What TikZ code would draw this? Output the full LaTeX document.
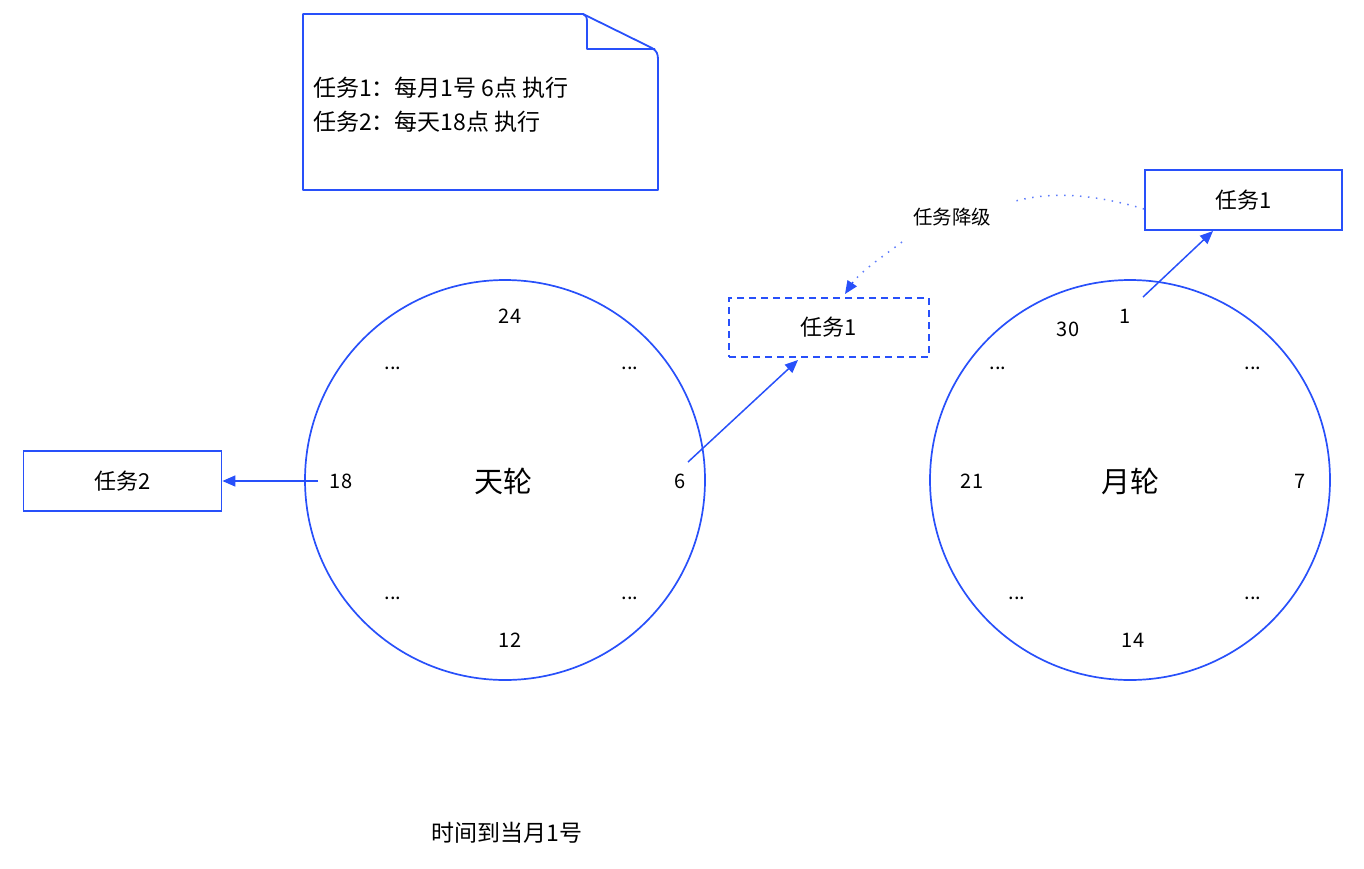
\documentclass[tikz,border=0pt]{standalone}
\usepackage{fontspec}
\setmainfont{Noto Sans CJK SC}
\usetikzlibrary{arrows.meta}
\definecolor{bl}{RGB}{40,80,250}
\begin{document}
\begin{tikzpicture}[x=1pt,y=-1pt,
  lbl/.style={font=\fontsize{23}{26}\selectfont, inner sep=0pt},
  num/.style={font=\fontsize{20}{24}\selectfont, inner sep=0pt},
  big/.style={font=\fontsize{29}{32}\selectfont, inner sep=0pt},
  wheel/.style={draw=bl, line width=1.7pt, circle, minimum size=400pt, inner sep=0pt},
  taskbox/.style={draw=bl, line width=1.8pt, minimum width=198pt, minimum height=60pt, font=\fontsize{22}{25}\selectfont},
  conn/.style={draw=bl, line width=1.5pt, -{Triangle[length=13pt,width=11pt]}}]
\useasboundingbox (0,0) rectangle (1364,868);
% note
\draw[bl, line width=1.8pt, line join=round] (303,14) -- (583,14) -- (652,48) .. controls (657,51) and (658,54) .. (658,60) -- (658,190) -- (303,190) -- cycle;
\draw[bl, line width=1.8pt, line join=round] (583,14) .. controls (586,15) and (587,17) .. (587,22) -- (587,49) -- (655,49);
\node[lbl, anchor=west] (n1) at (313,88) {任务1：每月1号 6点 执行};
\node[lbl, anchor=west] (n2) at (313,122) {任务2：每天18点 执行};
% wheels
\node[wheel] (dw) at (505,480) {};
\node[wheel] (mw) at (1130,480) {};
\node[big] (dwl) at (503,481) {天轮};
\node[big] (mwl) at (1130,481) {月轮};
% day labels
\node[num] (d24) at (510,316) {24};
\node[num] (d18) at (341,481) {18};
\node[num] (d6) at (680,481) {6};
\node[num] (d12) at (510,640) {12};
\node[num] (da) at (393,368) {...};
\node[num] (db) at (630,368) {...};
\node[num] (dc) at (393,598) {...};
\node[num] (dd) at (630,598) {...};
% month labels
\node[num] (m1) at (1125,316) {1};
\node[num] (m30) at (1068,329) {30};
\node[num] (m21) at (972,481) {21};
\node[num] (m7) at (1300,481) {7};
\node[num] (m14) at (1133,640) {14};
\node[num] (ma) at (998,368) {...};
\node[num] (mb) at (1253,368) {...};
\node[num] (mc) at (1017,598) {...};
\node[num] (md) at (1253,598) {...};
% boxes
\node[taskbox] (t2) at (122.5,481) {任务2};
\node[taskbox, dashed, dash pattern=on 7pt off 5pt, minimum width=200pt, minimum height=59pt] (t1a) at (829,327.5) {任务1};
\node[taskbox, minimum width=197pt] (t1b) at (1243.5,200) {任务1};
% connectors
\coordinate (s18) at (318,481);
\draw[conn] (s18) -- (t2.east);
\coordinate (s6) at (688,462);
\draw[conn] (s6) -- (798,360);
\coordinate (s1) at (1143,297);
\draw[conn] (s1) -- (1213,231);
\node[font=\fontsize{19.5}{22}\selectfont, inner sep=3pt] (dg) at (952,217) {任务降级};
\coordinate (u1) at (1012,202);
\coordinate (l1) at (902,242);
\coordinate (tip) at (845,294);
\draw[bl!75, line width=1.5pt, dash pattern=on 1.5pt off 6.5pt] ([yshift=-9pt]t1b.west) .. controls (1080,190) and (1040,194) .. (u1);
\draw[bl!75, line width=1.5pt, dash pattern=on 1.5pt off 6.5pt] (l1) .. controls (885,255) and (865,268) .. (853,282);
\draw[bl, line width=1.5pt, -{Triangle[length=13pt,width=11pt]}] (853,282) -- (tip);
\node[lbl] (bt) at (507,833) {时间到当月1号};
\end{tikzpicture}
\end{document}
